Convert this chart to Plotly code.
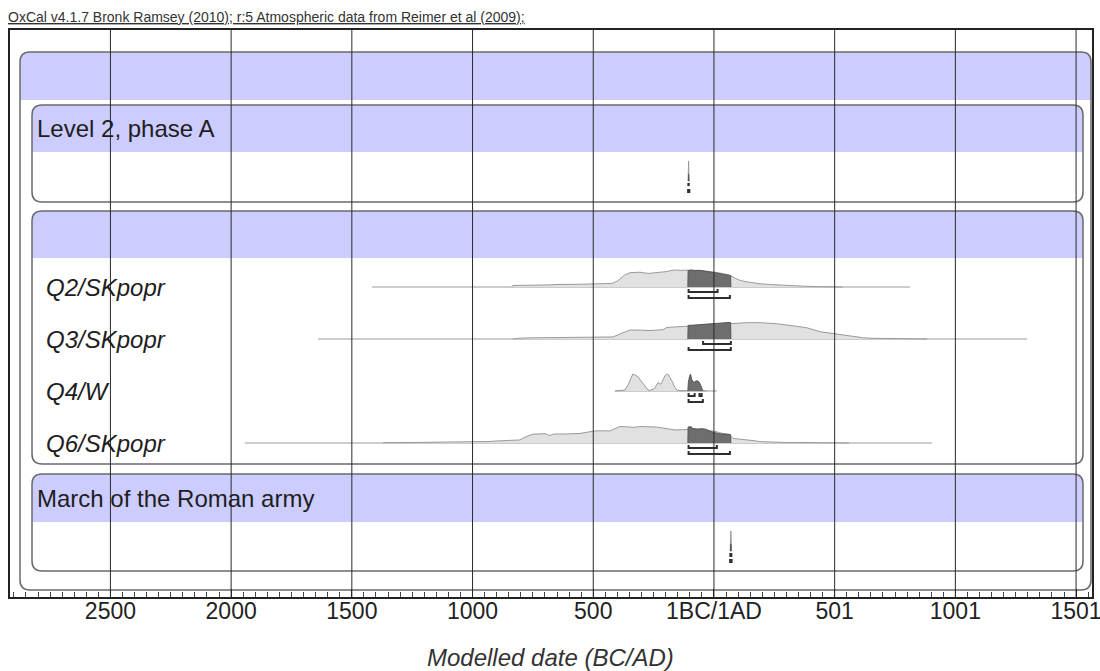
import plotly.graph_objects as go

# ---------------- axis / tick data ----------------
X_MIN, X_MAX = -2916, 1566
TICK_VALS = [-2500, -2000, -1500, -1000, -500, 0, 500, 1000, 1500]
TICK_TEXT = ["2500", "2000", "1500", "1000", "500", "1BC/1AD", "501", "1001", "1501"]

HEADER_TEXT = "OxCal v4.1.7 Bronk Ramsey (2010); r:5 Atmospheric data from Reimer et al (2009);"
X_TITLE = "Modelled date (BC/AD)"

GROUP_NAMES = ["", "Level 2, phase A", "", "March of the Roman army"]
SAMPLE_NAMES = ["Level 2, phase A", "Q2/SKpopr", "Q3/SKpopr", "Q4/W", "Q6/SKpopr", "March of the Roman army"]
SAMPLE_LABELS = ["", "Q2/SKpopr", "Q3/SKpopr", "Q4/W", "Q6/SKpopr", ""]

# overall range line extents (years, BC negative)
RANGE_START = [-108, -1417, -1640, -410, -1943, 67]
RANGE_END = [-101, 812, 1297, 12, 903, 73]

# unmodelled (light) probability, relative %
L2_LIGHT_X = [-107, -105, -103]
L2_LIGHT_Y = [0, 118, 0]

Q2_LIGHT_X = [-837, -833, -780, -733, -690, -650, -600, -560, -514, -470, -423, -400, -389, -370, -348, -320,
              -307, -285, -265, -245, -224, -200, -180, -160, -140, -120, -108, -60, -20, 0, 40, 70, 90, 110,
              137, 165, 191, 230, 261, 300, 330, 380, 427, 480, 534]
Q2_LIGHT_Y = [0, 9, 10, 10, 12, 15, 14, 16, 18, 19, 21, 35, 50, 70, 84, 88,
              87, 82, 80, 84, 86, 90, 96, 100, 98, 100, 99, 97, 92, 88, 78, 66, 50, 38,
              30, 24, 19, 15, 12, 9, 6, 4, 2, 1, 0]

Q3_LIGHT_X = [-833, -800, -750, -700, -600, -501, -450, -418, -389, -348, -300, -265, -230, -211, -195, -150,
              -112, -60, 0, 70, 137, 191, 220, 260, 315, 356, 385, 439, 493, 534, 576, 620, 659, 700,
              758, 820, 882]
Q3_LIGHT_Y = [0, 5, 7, 8, 8, 9, 10, 12, 30, 53, 52, 50, 53, 55, 68, 72,
              76, 82, 88, 94, 96, 96, 95, 90, 80, 72, 66, 43, 33, 22, 14, 7, 4, 3,
              2, 1, 0]

Q4_LIGHT_X = [-410, -389, -369, -356, -345, -336, -325, -315, -305, -294, -283, -273, -265, -257, -248, -240,
              -232, -224, -220, -211, -203, -195, -188, -182, -170, -166, -158, -153, -141, -120, -108,
              -99, -80, -50, -37, -29]
Q4_LIGHT_Y = [0, 2, 6, 35, 75, 100, 92, 85, 65, 45, 20, 6, 4, 6, 12, 30,
              50, 42, 40, 65, 90, 100, 95, 78, 50, 30, 12, 5, 2, 2, 2,
              5, 5, 2, 1, 0]

Q6_LIGHT_X = [-1371, -1368, -1250, -1135, -1106, -1000, -928, -899, -837, -804, -790, -770, -750, -733, -715,
              -700, -690, -679, -670, -659, -620, -597, -575, -555, -530, -501, -470, -431, -410, -389,
              -360, -330, -307, -280, -265, -240, -224, -200, -162, -130, -112, -60, 0, 40, 70, 79,
              110, 137, 170, 191, 230, 261, 300, 356, 420, 500, 560]
Q6_LIGHT_Y = [0, 2, 3, 4, 6, 8, 9, 12, 15, 18, 30, 41, 52, 53, 55,
              55, 50, 44, 50, 53, 53, 53, 55, 56, 62, 70, 72, 71, 85, 97,
              95, 92, 97, 97, 97, 94, 91, 86, 77, 78, 80, 78, 70, 55, 40, 27,
              23, 21, 13, 8, 5, 4, 3, 3, 2, 1, 0]

RM_LIGHT_X = [67, 70, 73]
RM_LIGHT_Y = [0, 118, 0]

# modelled (dark) probability, relative %
L2_DARK_X = [-106, -105, -104]
L2_DARK_Y = [0, 40, 0]

Q2_DARK_X = [-108, -107, -95, -80, -60, -40, -20, 0, 20, 40, 60, 69, 70]
Q2_DARK_Y = [0, 96, 100, 97, 98, 94, 92, 86, 80, 74, 70, 68, 0]

Q3_DARK_X = [-108, -107, -80, -50, -20, 0, 30, 50, 69, 70]
Q3_DARK_Y = [0, 80, 82, 86, 90, 92, 95, 96, 97, 0]

Q4_DARK_X = [-108, -106, -101, -97, -93, -88, -84, -79, -72, -66, -60, -54, -48, -46]
Q4_DARK_Y = [0, 50, 85, 100, 70, 55, 50, 55, 60, 58, 50, 30, 10, 0]

Q6_DARK_X = [-108, -107, -95, -87, -70, -50, -30, -17, 0, 12, 25, 50, 66, 69, 70]
Q6_DARK_Y = [0, 94, 96, 85, 82, 84, 80, 69, 62, 59, 53, 53, 52, 50, 0]

RM_DARK_X = [69, 70, 71]
RM_DARK_Y = [0, 40, 0]

# highest posterior density ranges (68.2% and 95.4%)
RANGES_68 = [[(-106, -103)], [(-105, 15)], [(-45, 70)], [(-105, -80), (-60, -51)], [(-105, 12)], [(68, 72)]]
RANGES_95 = [[(-107, -102)], [(-105, 66)], [(-105, 70)], [(-105, -46)], [(-105, 66)], [(67, 73)]]

LIGHT_X = [L2_LIGHT_X, Q2_LIGHT_X, Q3_LIGHT_X, Q4_LIGHT_X, Q6_LIGHT_X, RM_LIGHT_X]
LIGHT_Y = [L2_LIGHT_Y, Q2_LIGHT_Y, Q3_LIGHT_Y, Q4_LIGHT_Y, Q6_LIGHT_Y, RM_LIGHT_Y]
DARK_X = [L2_DARK_X, Q2_DARK_X, Q3_DARK_X, Q4_DARK_X, Q6_DARK_X, RM_DARK_X]
DARK_Y = [L2_DARK_Y, Q2_DARK_Y, Q3_DARK_Y, Q4_DARK_Y, Q6_DARK_Y, RM_DARK_Y]

# ---------------- page layout (pixels) ----------------
W, H = 1100, 671
ML, MR, MT, MB = 10, 8, 30, 74
PLOT_W = W - ML - MR
PLOT_H = H - MT - MB
AXIS_Y = H - MB

# boxes: (left, right, top, header bottom, bottom)
BOXES = [(20, 1091, 52, 100, 590),
         (32, 1083, 105, 152, 202),
         (32, 1083, 211, 258, 464),
         (32, 1083, 474, 522, 571)]
ROW_TOPS = [152, 258, 310, 362, 414, 522]
BASE_OFFSET = 29
PEAK_PX = 17.0 / 100.0

FONT = "Liberation Sans, Arial, sans-serif"
LIGHT_FILL, LIGHT_LINE = "#E1E1E1", "#9A9A9A"
DARK_FILL, DARK_LINE = "#6E6E6E", "#555555"
BAND = "#CCCCFF"


def xp(px):
    return (px - ML) / PLOT_W


def yp(py):
    return (AXIS_Y - py) / PLOT_H


def rounded_box(x0, x1, y0, y1, r=10):
    rx = r / PLOT_W
    X0, X1 = xp(x0), xp(x1)
    return (f"M{X0+rx},{y0} L{X1-rx},{y0} Q{X1},{y0} {X1},{y0+r} "
            f"L{X1},{y1-r} Q{X1},{y1} {X1-rx},{y1} L{X0+rx},{y1} "
            f"Q{X0},{y1} {X0},{y1-r} L{X0},{y0+r} Q{X0},{y0} {X0+rx},{y0} Z")


def header_band(x0, x1, y0, yh, r=10):
    rx = r / PLOT_W
    X0, X1 = xp(x0), xp(x1)
    return (f"M{X0},{yh} L{X0},{y0+r} Q{X0},{y0} {X0+rx},{y0} "
            f"L{X1-rx},{y0} Q{X1},{y0} {X1},{y0+r} L{X1},{yh} Z")


fig = go.Figure()
shapes = []
annotations = []

for (x0, x1, y0, yh, y1) in BOXES:
    shapes.append(dict(type="path", xref="paper", yref="y", path=header_band(x0, x1, y0, yh),
                       fillcolor=BAND, line=dict(width=0), layer="below"))
    shapes.append(dict(type="path", xref="paper", yref="y", path=rounded_box(x0, x1, y0, y1),
                       fillcolor="rgba(0,0,0,0)", line=dict(color="#6A6A6A", width=1.5), layer="below"))

for v in TICK_VALS:
    shapes.append(dict(type="line", xref="x", yref="paper", x0=v, x1=v, y0=0, y1=1,
                       line=dict(color="#2A2A2A", width=1), layer="above"))

for i, name in enumerate(SAMPLE_NAMES):
    base = ROW_TOPS[i] + BASE_OFFSET
    # range line
    fig.add_trace(go.Scatter(x=[RANGE_START[i], RANGE_END[i]], y=[base, base], mode="lines",
                             line=dict(color=LIGHT_LINE, width=1), hoverinfo="skip", showlegend=False))
    # unmodelled
    fig.add_trace(go.Scatter(x=LIGHT_X[i], y=[base - v * PEAK_PX for v in LIGHT_Y[i]], mode="lines",
                             fill="toself", fillcolor=LIGHT_FILL, line=dict(color=LIGHT_LINE, width=1),
                             name=name, showlegend=False))
    # modelled
    fig.add_trace(go.Scatter(x=DARK_X[i], y=[base - v * PEAK_PX for v in DARK_Y[i]], mode="lines",
                             fill="toself", fillcolor=DARK_FILL, line=dict(color=DARK_LINE, width=1),
                             name=name + " (modelled)", showlegend=False))
    # range brackets
    for ranges, off in ((RANGES_68[i], 5), (RANGES_95[i], 11)):
        bx, by = [], []
        for a, b in ranges:
            yb = base + off
            bx += [a, a, b, b, None]
            by += [yb - 3, yb, yb, yb - 3, None]
        fig.add_trace(go.Scatter(x=bx, y=by, mode="lines", line=dict(color="#2E2E2E", width=2),
                                 hoverinfo="skip", showlegend=False))
    if SAMPLE_LABELS[i]:
        annotations.append(dict(x=xp(44), xref="paper", y=base, yref="y", text=f"<i>{SAMPLE_LABELS[i]}</i>",
                                showarrow=False, xanchor="left", yanchor="middle",
                                font=dict(family=FONT, size=24, color="#1E1E1E")))

for (x0, x1, y0, yh, y1), g in zip(BOXES, GROUP_NAMES):
    if g:
        annotations.append(dict(x=xp(x0 + 3), xref="paper", y=(y0 + yh) / 2, yref="y", text=g,
                                showarrow=False, xanchor="left", yanchor="middle",
                                font=dict(family=FONT, size=24, color="#1E1E1E")))

annotations.append(dict(x=xp(6), xref="paper", y=yp(17), yref="paper", text=f"<u>{HEADER_TEXT}</u>",
                        showarrow=False, xanchor="left", yanchor="middle",
                        font=dict(family=FONT, size=14, color="#333333")))
annotations.append(dict(x=xp(550), xref="paper", y=yp(657), yref="paper", text=f"<i>{X_TITLE}</i>",
                        showarrow=False, xanchor="center", yanchor="middle",
                        font=dict(family=FONT, size=24, color="#333333")))

fig.update_layout(
    width=W, height=H,
    margin=dict(l=ML, r=MR, t=MT, b=MB, autoexpand=False),
    paper_bgcolor="white", plot_bgcolor="white",
    shapes=shapes, annotations=annotations,
    showlegend=False,
    xaxis=dict(range=[X_MIN, X_MAX], tickmode="array", tickvals=TICK_VALS, ticktext=TICK_TEXT,
               automargin=False, ticklabeloverflow="allow",
               showgrid=False, zeroline=False, showline=True, linecolor="#222222", linewidth=2, mirror=True,
               ticks="inside", ticklen=8, tickcolor="#222222", tickwidth=1, ticklabelstandoff=-8,
               tickfont=dict(family=FONT, size=23, color="#222222"),
               minor=dict(tickmode="linear", tick0=0, dtick=50, ticks="inside", ticklen=5,
                          tickcolor="#444444", tickwidth=1, showgrid=False)),
    yaxis=dict(range=[AXIS_Y, MT], showgrid=False, zeroline=False, showticklabels=False, ticks="",
               automargin=False,
               showline=True, linecolor="#222222", linewidth=2, mirror=True),
)

fig.write_html("out.html", config={"displayModeBar": False},
               post_script="document.body.style.margin='0px';")
